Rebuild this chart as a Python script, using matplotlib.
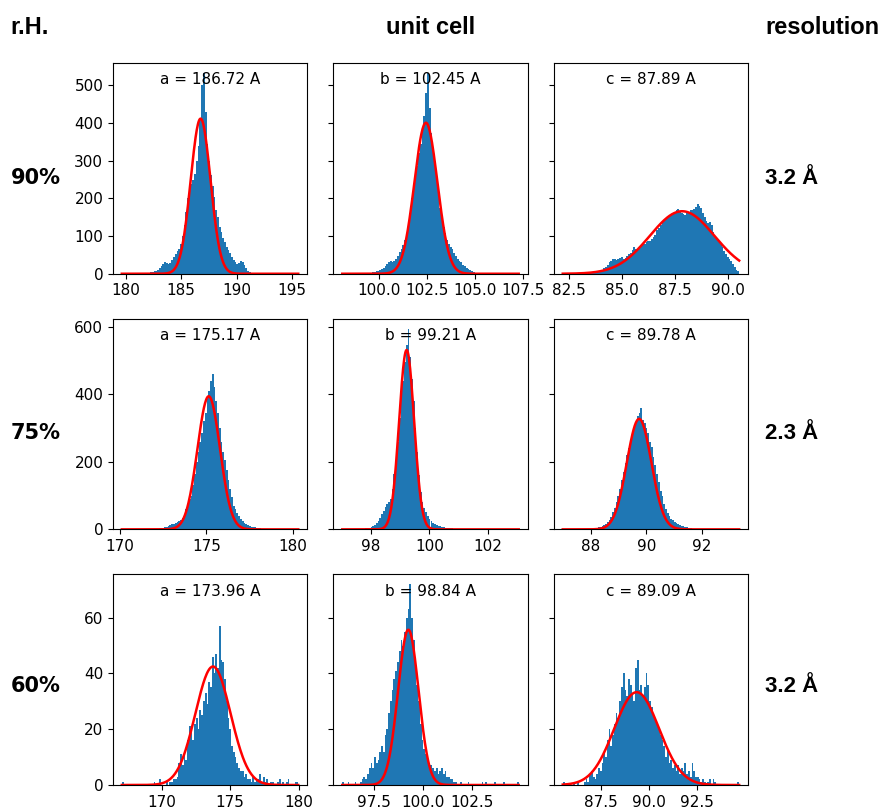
import numpy as np
import matplotlib.pyplot as plt

# bin counts (100 bins each)
a90 = [1, 0, 0, 0, 0, 0, 0, 0, 0, 0,
       0, 0, 0, 0, 1, 2, 4, 5, 6, 8,
       10, 14, 20, 26, 30, 28, 26, 28, 36, 44,
       52, 60, 66, 78, 100, 130, 165, 200, 225, 238,
       250, 265, 300, 340, 410, 500, 532, 430, 345, 300,
       262, 232, 205, 170, 150, 125, 112, 95, 85, 72,
       62, 55, 45, 36, 30, 26, 28, 34, 30, 22,
       14, 8, 4, 2, 1, 0, 0, 0, 0, 0,
       0, 0, 0, 0, 0, 0, 0, 0, 0, 0,
       0, 0, 0, 0, 0, 0, 0, 0, 0, 1]
b90 = [1, 0, 0, 0, 0, 0, 0, 0, 0, 0,
       0, 1, 1, 2, 2, 3, 3, 4, 5, 6,
       8, 10, 12, 16, 20, 25, 32, 35, 30, 34,
       40, 48, 58, 66, 75, 90, 105, 130, 160, 200,
       235, 260, 285, 320, 345, 380, 420, 480, 533, 440,
       375, 330, 290, 245, 210, 175, 150, 125, 108, 90,
       80, 72, 66, 56, 48, 40, 35, 30, 24, 20,
       16, 12, 10, 7, 5, 3, 2, 2, 1, 1,
       0, 0, 0, 0, 0, 0, 0, 0, 0, 0,
       0, 0, 0, 0, 0, 0, 0, 0, 0, 1]
c90 = [1, 0, 0, 0, 0, 0, 0, 0, 0, 0,
       1, 1, 1, 2, 2, 3, 3, 4, 4, 5,
       6, 8, 10, 14, 18, 24, 30, 35, 38, 40,
       37, 38, 42, 45, 40, 41, 48, 52, 55, 62,
       70, 66, 64, 72, 76, 78, 80, 84, 86, 88,
       92, 98, 102, 115, 122, 130, 134, 140, 146, 150,
       152, 155, 160, 165, 170, 172, 165, 160, 158, 155,
       160, 165, 170, 168, 172, 178, 185, 180, 175, 160,
       150, 140, 135, 138, 130, 112, 100, 92, 85, 80,
       70, 60, 52, 45, 38, 34, 25, 18, 10, 6]
a75 = [1, 0, 0, 0, 0, 0, 0, 0, 0, 0,
       0, 0, 0, 0, 0, 0, 0, 0, 0, 1,
       2, 3, 4, 5, 6, 8, 10, 12, 15, 17,
       19, 21, 25, 28, 34, 45, 60, 75, 90, 100,
       130, 165, 200, 230, 260, 285, 320, 345, 385, 410,
       440, 460, 420, 380, 345, 300, 260, 230, 205, 175,
       145, 120, 95, 70, 60, 48, 40, 32, 26, 20,
       16, 14, 10, 8, 7, 6, 5, 4, 3, 2,
       2, 1, 1, 0, 0, 0, 0, 0, 0, 0,
       0, 0, 0, 0, 0, 0, 0, 0, 0, 1]
b75 = [1, 0, 0, 0, 0, 0, 0, 0, 0, 0,
       1, 2, 2, 3, 4, 5, 7, 9, 12, 18,
       25, 35, 45, 55, 65, 75, 80, 90, 120, 165,
       200, 260, 330, 390, 440, 495, 545, 594, 510, 445,
       380, 300, 230, 160, 110, 80, 62, 50, 40, 32,
       25, 20, 16, 14, 11, 9, 7, 6, 5, 4,
       4, 3, 3, 2, 2, 2, 2, 1, 1, 1,
       1, 0, 0, 0, 0, 0, 0, 0, 0, 0,
       0, 0, 0, 0, 0, 0, 0, 0, 0, 0,
       0, 0, 0, 0, 0, 0, 0, 0, 0, 1]
c75 = [1, 0, 0, 0, 0, 0, 0, 0, 0, 0,
       0, 0, 0, 0, 1, 1, 2, 2, 3, 4,
       6, 8, 10, 13, 17, 22, 28, 38, 50, 62,
       80, 100, 120, 145, 170, 195, 220, 240, 260, 285,
       300, 315, 335, 345, 360, 325, 315, 300, 285, 260,
       245, 215, 190, 165, 140, 115, 100, 75, 60, 48,
       40, 32, 28, 22, 19, 16, 13, 11, 9, 7,
       6, 5, 3, 2, 2, 1, 1, 0, 0, 0,
       0, 0, 0, 0, 0, 0, 0, 0, 0, 0,
       0, 0, 0, 0, 0, 0, 0, 0, 0, 1]
a60 = [1, 0, 0, 0, 0, 0, 0, 0, 0, 0,
       0, 0, 0, 0, 0, 0, 0, 0, 1, 0,
       0, 2, 0, 0, 0, 1, 0, 1, 1, 2,
       2, 3, 8, 11, 7, 12, 9, 16, 21, 20,
       16, 22, 24, 20, 27, 25, 30, 33, 29, 37,
       35, 46, 40, 47, 42, 57, 45, 44, 38, 30,
       24, 20, 14, 12, 10, 8, 6, 5, 5, 3,
       4, 2, 2, 1, 3, 1, 2, 2, 4, 1,
       3, 1, 2, 0, 1, 1, 0, 0, 1, 2,
       0, 1, 0, 1, 2, 0, 0, 0, 1, 1]
b60 = [1, 0, 0, 1, 0, 0, 0, 1, 0, 0,
       1, 2, 3, 2, 4, 6, 8, 6, 10, 8,
       9, 12, 14, 12, 18, 20, 26, 30, 34, 38,
       41, 44, 48, 52, 50, 55, 60, 63, 72, 60,
       52, 44, 36, 30, 22, 16, 13, 11, 9, 8,
       7, 6, 5, 6, 4, 5, 6, 4, 5, 3,
       3, 2, 2, 1, 1, 0, 0, 1, 0, 0,
       0, 1, 0, 0, 0, 0, 0, 0, 0, 1,
       0, 1, 0, 0, 0, 0, 1, 0, 0, 0,
       0, 1, 0, 0, 0, 0, 0, 0, 0, 1]
c60 = [1, 0, 0, 0, 0, 0, 1, 0, 1, 0,
       0, 0, 1, 2, 1, 4, 5, 3, 2, 4,
       6, 5, 8, 12, 10, 16, 20, 14, 18, 22,
       26, 24, 30, 35, 40, 34, 32, 38, 36, 33,
       30, 42, 45, 34, 36, 32, 35, 40, 36, 30,
       28, 26, 24, 22, 20, 18, 16, 14, 10, 13,
       8, 9, 6, 7, 5, 7, 4, 6, 5, 8,
       4, 5, 3, 8, 5, 3, 3, 2, 1, 2,
       1, 0, 1, 2, 0, 2, 1, 0, 0, 0,
       0, 0, 0, 0, 0, 0, 0, 0, 0, 1]

counts = [[a90, b90, c90], [a75, b75, c75], [a60, b60, c60]]

# data range (min, max) of each histogram
ranges = [[(179.65, 195.55), (98.1, 107.3), (82.2, 90.55)],
          [(170.13, 180.3), (97.01, 103.07), (87.0, 93.33)],
          [(167.09, 179.98), (95.87, 104.9), (85.49, 94.68)]]

# gaussian fit: mean, sigma, amplitude
fits = [[(186.75, 0.89, 412), (102.46, 0.60, 401), (87.85, 1.53, 166)],
        [(175.14, 0.65, 394), (99.22, 0.257, 531), (89.74, 0.44, 327)],
        [(173.75, 1.28, 42.5), (99.25, 0.526, 55.7), (89.34, 1.17, 33.3)]]

labels = [["a = 186.72 A", "b = 102.45 A", "c = 87.89 A"],
          ["a = 175.17 A", "b = 99.21 A", "c = 89.78 A"],
          ["a = 173.96 A", "b = 98.84 A", "c = 89.09 A"]]

xticks = [[[180, 185, 190, 195], [100.0, 102.5, 105.0, 107.5], [82.5, 85.0, 87.5, 90.0]],
          [[170, 175, 180], [98, 100, 102], [88, 90, 92]],
          [[170, 175, 180], [97.5, 100.0, 102.5], [87.5, 90.0, 92.5]]]
yticks = [[0, 100, 200, 300, 400, 500], [0, 200, 400, 600], [0, 20, 40, 60]]

humidity = ["90%", "75%", "60%"]
resolution = ["3.2 Å", "2.3 Å", "3.2 Å"]

W, H = 887, 809
fig, axes = plt.subplots(3, 3, figsize=(W / 100, H / 100), dpi=100, sharey='row')
fig.subplots_adjust(left=113 / W, right=748 / W, top=1 - 63 / H, bottom=1 - 785 / H,
                    wspace=0.136, hspace=0.213)

for i in range(3):
    for j in range(3):
        ax = axes[i, j]
        lo, hi = ranges[i][j]
        edges = np.linspace(lo, hi, len(counts[i][j]) + 1)
        centers = 0.5 * (edges[:-1] + edges[1:])
        ax.hist(centers, bins=edges, weights=counts[i][j])
        mu, sig, amp = fits[i][j]
        x = np.linspace(lo, hi, 300)
        ax.plot(x, amp * np.exp(-(x - mu) ** 2 / (2 * sig ** 2)), color='red', lw=1.8)
        ax.text(0.5, 0.92, labels[i][j], transform=ax.transAxes,
                ha='center', va='center', fontsize=11)
        ax.set_xticks(xticks[i][j])
        ax.set_yticks(yticks[i])
        ax.tick_params(labelsize=11)

# row / column annotations
head = dict(fontsize=17, fontweight='bold', family=['Liberation Sans Narrow', 'Liberation Sans'],
            ha='center', va='center')
fig.text(30 / W, 1 - 27 / H, "r.H.", **head)
fig.text(431 / W, 1 - 27 / H, "unit cell", **head)
fig.text(822 / W, 1 - 27 / H, "resolution", **head)

row_y = [178, 433, 686]
for k in range(3):
    fig.text(36 / W, 1 - row_y[k] / H, humidity[k], fontsize=15, fontweight='bold',
             ha='center', va='center')
    fig.text(792 / W, 1 - row_y[k] / H, resolution[k], fontsize=16, fontweight='bold',
             family='Liberation Sans', ha='center', va='center')

fig.savefig("out.png", dpi=100)
